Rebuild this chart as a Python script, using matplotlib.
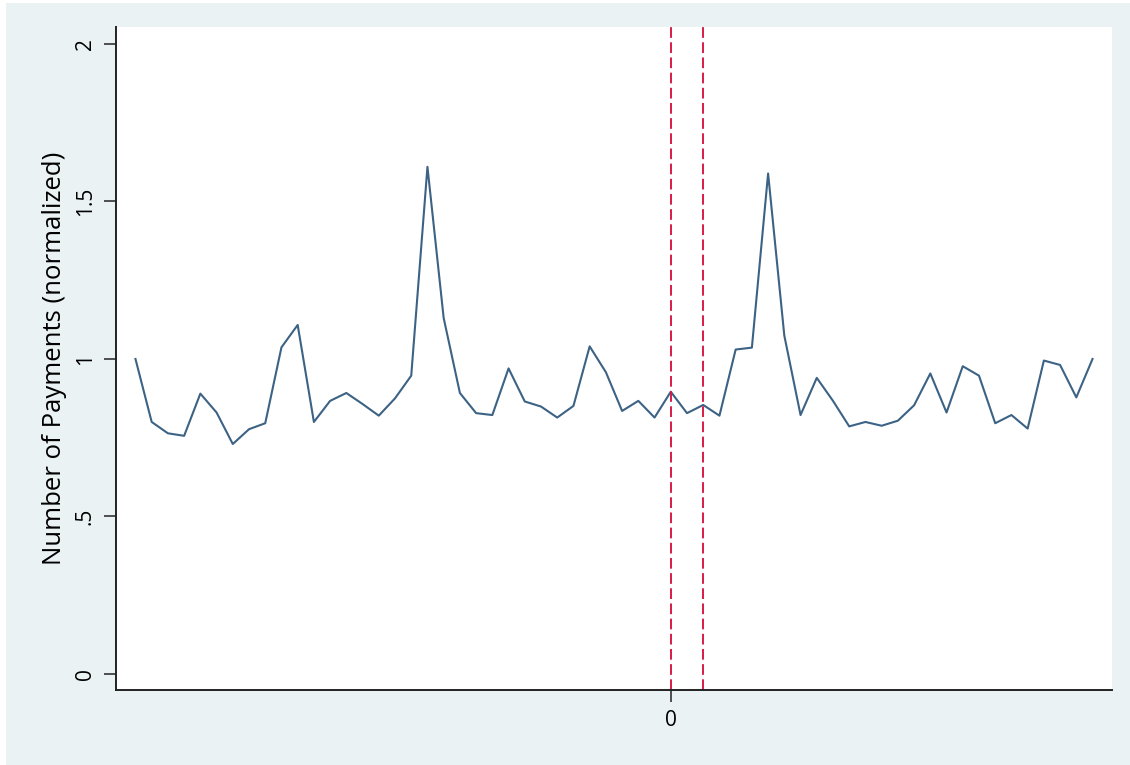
"""
Normalized payment counts around the event window (t = 0 and t = 2 marked).
"""

import matplotlib as mpl
import matplotlib.pyplot as plt
import numpy as np
from matplotlib.patches import Rectangle

mpl.rcParams["font.family"] = ["Open Sans", "DejaVu Sans"]

# relative period, -33 ... 26
periods = np.arange(-33, 27)
payments = [
    1.00, 0.80, 0.764, 0.756, 0.89, 0.83, 0.73, 0.777, 0.796, 1.037,
    1.108, 0.80, 0.867, 0.892, 0.857, 0.82, 0.875, 0.947, 1.61, 1.13,
    0.892, 0.828, 0.822, 0.97, 0.865, 0.849, 0.814, 0.851, 1.04, 0.958,
    0.835, 0.867, 0.814, 0.896, 0.828, 0.854, 0.82, 1.03, 1.036, 1.589,
    1.074, 0.822, 0.94, 0.867, 0.786, 0.80, 0.788, 0.804, 0.853, 0.954,
    0.83, 0.977, 0.947, 0.796, 0.822, 0.779, 0.995, 0.981, 0.878, 1.00,
]
event_lines = [0, 2]
y_ticks = [0, 0.5, 1, 1.5, 2]
y_ticklabels = ["0", ".5", "1", "1.5", "2"]

W, H = 1130, 765
fig = plt.figure(figsize=(W / 100, H / 100), dpi=100, facecolor="white")
fig.patches.append(Rectangle((6 / W, 0), 1 - 6 / W, 1 - 3 / H,
                             transform=fig.transFigure, facecolor="#eaf2f3",
                             edgecolor="none", zorder=-10))

ax = fig.add_axes([116 / W, 1 - 690 / H, (1112 - 116) / W, (690 - 27) / H])
ax.set_facecolor("white")

ax.plot(periods, payments, color="#1a476f", lw=1.5, alpha=0.85)
for x in event_lines:
    ax.axvline(x, color="#d81b47", lw=1.4, ls=(0, (5.5, 2.3)))

ax.set_xlim(-34.2, 27.2)
ax.set_ylim(-0.051, 2.054)

ax.set_yticks(y_ticks)
ax.set_yticklabels(y_ticklabels, rotation=90, va="center", fontsize=15)
ax.set_xticks([0])
ax.set_xticklabels(["0"], fontsize=15)
ax.tick_params(length=8.5, width=1.2, color="#333333", pad=6)

ax.set_ylabel("Number of Payments (normalized)", fontsize=18.5, labelpad=6)

for side in ("top", "right"):
    ax.spines[side].set_visible(False)
for side in ("left", "bottom"):
    ax.spines[side].set_linewidth(1.4)
    ax.spines[side].set_color("#222222")

fig.savefig("out.png", dpi=100, facecolor=fig.get_facecolor())
